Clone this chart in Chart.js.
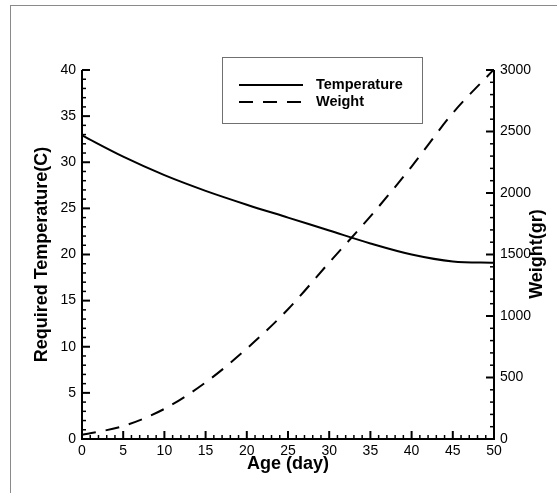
<!DOCTYPE html>
<html>
<head>
<meta charset="utf-8">
<script src="https://cdn.jsdelivr.net/npm/chart.js@4.4.1/dist/chart.umd.min.js"></script>
<style>
  body { margin: 0; background: #fff; }
  #wrap { position: relative; width: 557px; height: 493px; }
  #frame { position: absolute; left: 10px; top: 5px; right: 0; bottom: 0;
           border-top: 1px solid #8a8a8a; border-left: 1px solid #8a8a8a; }
  canvas { position: absolute; left: 0; top: 0; }
</style>
</head>
<body>
<div id="wrap">
  <div id="frame"></div>
  <canvas id="chart" width="557" height="493"></canvas>
</div>
<script>
// Age of the birds in days
const ages = [0, 5, 10, 15, 20, 25, 30, 35, 40, 45, 50];
// Required temperature (C), left axis
const temperature = [32.9, 30.6, 28.6, 26.9, 25.4, 24.0, 22.6, 21.2, 20.0, 19.25, 19.1];
// Weight (gr), right axis
const weight = [35, 105, 245, 460, 735, 1055, 1435, 1810, 2215, 2650, 3005];

const xTicks = { min: 0, max: 50, major: 5, minor: 1 };
const tempTicks = { min: 0, max: 40, major: 5, minor: 1 };
const weightTicks = { min: 0, max: 3000, major: 500, minor: 100 };

const FONT = "'Liberation Sans', Arial, sans-serif";

function toPoints(xs, ys) {
  return xs.map((x, i) => ({ x: x, y: ys[i] }));
}

// plain numbers, no thousands separator
function plain(value) {
  return String(value);
}

// draws inward tick marks (major and minor) along one axis
function drawTicks(ctx, scale, t, edge, side) {
  const n = Math.round((t.max - t.min) / t.minor);
  for (let i = 0; i <= n; i++) {
    const v = t.min + i * t.minor;
    const isMajor = Math.abs(v / t.major - Math.round(v / t.major)) < 1e-6;
    const len = isMajor ? 8 : 4;
    ctx.lineWidth = isMajor ? 2 : 1.5;
    const p = scale.getPixelForValue(v);
    ctx.beginPath();
    if (side === 'bottom') {
      ctx.moveTo(p, edge); ctx.lineTo(p, edge - len);
    } else if (side === 'left') {
      ctx.moveTo(edge, p); ctx.lineTo(edge + len, p);
    } else {
      ctx.moveTo(edge, p); ctx.lineTo(edge - len, p);
    }
    ctx.stroke();
  }
}

const axisPlugin = {
  id: 'axisFrame',
  afterDraw(chart) {
    const { ctx, chartArea: a, scales } = chart;
    ctx.save();
    ctx.strokeStyle = '#000';
    ctx.lineWidth = 2;
    ctx.beginPath();
    ctx.moveTo(a.left, a.top);
    ctx.lineTo(a.left, a.bottom);
    ctx.lineTo(a.right, a.bottom);
    ctx.lineTo(a.right, a.top);
    ctx.stroke();
    drawTicks(ctx, scales.x, xTicks, a.bottom, 'bottom');
    drawTicks(ctx, scales.y, tempTicks, a.left, 'left');
    drawTicks(ctx, scales.y1, weightTicks, a.right, 'right');

    // right axis title reads bottom to top
    ctx.fillStyle = '#000';
    ctx.font = 'bold 18px ' + FONT;
    ctx.textAlign = 'center';
    ctx.textBaseline = 'middle';
    ctx.translate(537, 254);
    ctx.rotate(-Math.PI / 2);
    ctx.fillText('Weight(gr)', 0, 0);
    ctx.restore();
  }
};

// boxed legend inside the plot
const legendPlugin = {
  id: 'boxLegend',
  afterDraw(chart) {
    const ctx = chart.ctx;
    const box = { x: 222.5, y: 57.5, w: 200, h: 66 };
    ctx.save();
    ctx.fillStyle = '#fff';
    ctx.fillRect(box.x, box.y, box.w, box.h);
    ctx.strokeStyle = '#707070';
    ctx.lineWidth = 1;
    ctx.strokeRect(box.x, box.y, box.w, box.h);
    chart.data.datasets.forEach((ds, i) => {
      const y = 85 + i * 17;
      ctx.strokeStyle = ds.borderColor;
      ctx.lineWidth = 2;
      ctx.setLineDash(ds.borderDash || []);
      ctx.beginPath();
      ctx.moveTo(239, y);
      ctx.lineTo(303, y);
      ctx.stroke();
      ctx.setLineDash([]);
      ctx.fillStyle = '#000';
      ctx.font = 'bold 14.5px ' + FONT;
      ctx.textAlign = 'left';
      ctx.textBaseline = 'middle';
      ctx.fillText(ds.label, 316, y);
    });
    ctx.restore();
  }
};

const tickFont = { family: FONT, size: 14 };
const titleFont = { family: FONT, size: 18, weight: 'bold' };

new Chart(document.getElementById('chart').getContext('2d'), {
  type: 'line',
  data: {
    datasets: [
      {
        label: 'Temperature',
        data: toPoints(ages, temperature),
        yAxisID: 'y',
        borderColor: '#000',
        borderWidth: 2,
        pointRadius: 0,
        cubicInterpolationMode: 'monotone'
      },
      {
        label: 'Weight',
        data: toPoints(ages, weight),
        yAxisID: 'y1',
        borderColor: '#000',
        borderWidth: 2,
        borderDash: [14, 10],
        pointRadius: 0,
        cubicInterpolationMode: 'monotone'
      }
    ]
  },
  options: {
    responsive: false,
    animation: false,
    layout: { padding: { top: 70, left: 0, right: 0, bottom: 0 } },
    plugins: { legend: { display: false }, tooltip: { enabled: false } },
    scales: {
      x: {
        type: 'linear',
        min: xTicks.min,
        max: xTicks.max,
        grid: { display: false, drawTicks: false },
        border: { display: false },
        ticks: { stepSize: xTicks.major, color: '#000', font: tickFont, padding: 4, maxRotation: 0, callback: plain },
        title: { display: true, text: 'Age (day)', color: '#000', font: titleFont, padding: { top: 0, bottom: 18 } },
        afterFit(scale) { scale.height = 54; }
      },
      y: {
        position: 'left',
        min: tempTicks.min,
        max: tempTicks.max,
        grid: { display: false, drawTicks: false },
        border: { display: false },
        ticks: { stepSize: tempTicks.major, color: '#000', font: tickFont, padding: 6, callback: plain },
        title: { display: true, text: 'Required Temperature(C)', color: '#000', font: titleFont, padding: { top: 31, bottom: 0 } },
        afterFit(scale) { scale.width = 82; }
      },
      y1: {
        position: 'right',
        min: weightTicks.min,
        max: weightTicks.max,
        grid: { display: false, drawTicks: false },
        border: { display: false },
        ticks: { stepSize: weightTicks.major, color: '#000', font: tickFont, padding: 6, callback: plain },
        afterFit(scale) { scale.width = 63; }
      }
    }
  },
  plugins: [axisPlugin, legendPlugin]
});
</script>
</body>
</html>
